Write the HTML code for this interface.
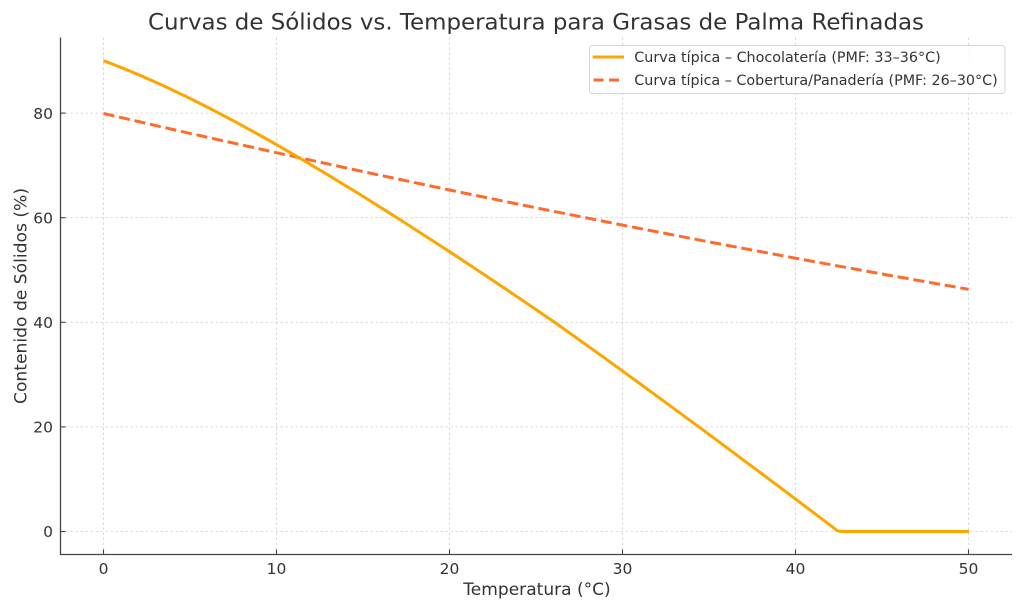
<!DOCTYPE html>
<html>
<head>
<meta charset="utf-8">
<style>
  html, body { margin: 0; padding: 0; background: #ffffff; }
  svg { display: block; }
  text { font-family: "DejaVu Sans", "Liberation Sans", sans-serif; fill: #333333; }
</style>
</head>
<body>
<svg width="1024" height="614" viewBox="0 0 1024 614" xmlns="http://www.w3.org/2000/svg">
  <rect x="0" y="0" width="1024" height="614" fill="#ffffff"/>

  <!-- Title -->
  <text x="536" y="29.5" font-size="22.3" text-anchor="middle" textLength="776" lengthAdjust="spacingAndGlyphs">Curvas de Sólidos vs. Temperatura para Grasas de Palma Refinadas</text>

  <!-- Grid -->
  <g stroke="#d2d2d2" stroke-width="0.8" stroke-dasharray="2.5 2.5" fill="none">
    <line x1="103.5" y1="37.5" x2="103.5" y2="554"/>
    <line x1="276.5" y1="37.5" x2="276.5" y2="554"/>
    <line x1="449.5" y1="37.5" x2="449.5" y2="554"/>
    <line x1="622.5" y1="37.5" x2="622.5" y2="554"/>
    <line x1="795.5" y1="37.5" x2="795.5" y2="554"/>
    <line x1="968.5" y1="37.5" x2="968.5" y2="554"/>
    <line x1="60.5" y1="531.5" x2="1012" y2="531.5"/>
    <line x1="60.5" y1="426.9" x2="1012" y2="426.9"/>
    <line x1="60.5" y1="322.3" x2="1012" y2="322.3"/>
    <line x1="60.5" y1="217.7" x2="1012" y2="217.7"/>
    <line x1="60.5" y1="113.1" x2="1012" y2="113.1"/>
  </g>

  <!-- Series: dashed (Cobertura/Panadería) -->
  <polyline fill="none" stroke="#FF6B2B" stroke-width="3" stroke-dasharray="11.1 4.8"
    points="103.5,113.5 190,133.4 276.5,152.7 363,171.6 449.5,190.0 536,207.8 622.5,225.1 709,241.9 795.5,258.2 882,274.0 968.5,289.3"/>

  <!-- Series: solid (Chocolatería) -->
  <polyline fill="none" stroke="#FFA500" stroke-width="3" stroke-linejoin="round"
    points="103.5,60.7 113.5,64.49 123.5,68.45 143.5,76.82 163.5,85.75 183.5,95.21 203.5,105.13 233.5,120.77 263.5,137.25 293.5,154.41 323.5,172.18 363.5,196.64 403.5,221.86 453.5,254.26 503.5,287.5 553.5,321.48 603.5,357.2 653.5,393.53 703.5,430.33 753.5,467.52 803.5,505.04 833.5,527.68 837,530.5 840,531.4 845,531.5 969,531.5"/>

  <!-- Spines -->
  <g stroke="#444444" stroke-width="1.3" fill="none">
    <line x1="60.5" y1="37.5" x2="60.5" y2="555"/>
    <line x1="60" y1="554.5" x2="1012" y2="554.5"/>
  </g>

  <!-- Ticks (inward) -->
  <g stroke="#444444" stroke-width="1.1">
    <line x1="103.5" y1="549.5" x2="103.5" y2="554.5"/>
    <line x1="276.5" y1="549.5" x2="276.5" y2="554.5"/>
    <line x1="449.5" y1="549.5" x2="449.5" y2="554.5"/>
    <line x1="622.5" y1="549.5" x2="622.5" y2="554.5"/>
    <line x1="795.5" y1="549.5" x2="795.5" y2="554.5"/>
    <line x1="968.5" y1="549.5" x2="968.5" y2="554.5"/>
    <line x1="60.5" y1="531.5" x2="65.5" y2="531.5"/>
    <line x1="60.5" y1="426.9" x2="65.5" y2="426.9"/>
    <line x1="60.5" y1="322.3" x2="65.5" y2="322.3"/>
    <line x1="60.5" y1="217.7" x2="65.5" y2="217.7"/>
    <line x1="60.5" y1="113.1" x2="65.5" y2="113.1"/>
  </g>

  <!-- X tick labels -->
  <g font-size="15.5" text-anchor="middle">
    <text x="103.5" y="574">0</text>
    <text x="276.5" y="574">10</text>
    <text x="449.5" y="574">20</text>
    <text x="622.5" y="574">30</text>
    <text x="795.5" y="574">40</text>
    <text x="968.5" y="574">50</text>
  </g>

  <!-- Y tick labels -->
  <g font-size="15.5" text-anchor="end">
    <text x="53" y="537.2">0</text>
    <text x="53" y="432.6">20</text>
    <text x="53" y="328">40</text>
    <text x="53" y="223.4">60</text>
    <text x="53" y="118.8">80</text>
  </g>

  <!-- Axis labels -->
  <text x="537" y="595" font-size="16.7" text-anchor="middle" textLength="147.4" lengthAdjust="spacingAndGlyphs">Temperatura (°C)</text>
  <text transform="translate(26.5,296) rotate(-90)" x="0" y="0" font-size="16.7" text-anchor="middle" textLength="216" lengthAdjust="spacingAndGlyphs">Contenido de Sólidos (%)</text>

  <!-- Legend -->
  <rect x="589.5" y="45.5" width="415.5" height="48" rx="3" ry="3" fill="#ffffff" fill-opacity="0.85" stroke="#d6d6d6" stroke-width="1"/>
  <line x1="592.7" y1="57" x2="624" y2="57" stroke="#FFA500" stroke-width="3"/>
  <line x1="593.5" y1="80" x2="624" y2="80" stroke="#FF6B2B" stroke-width="3" stroke-dasharray="10 5.5"/>
  <text x="634.3" y="62" font-size="13.9" textLength="306.4" lengthAdjust="spacingAndGlyphs">Curva típica – Chocolatería (PMF: 33–36°C)</text>
  <text x="634.3" y="85" font-size="13.9" textLength="363.4" lengthAdjust="spacingAndGlyphs">Curva típica – Cobertura/Panadería (PMF: 26–30°C)</text>
</svg>
</body>
</html>
